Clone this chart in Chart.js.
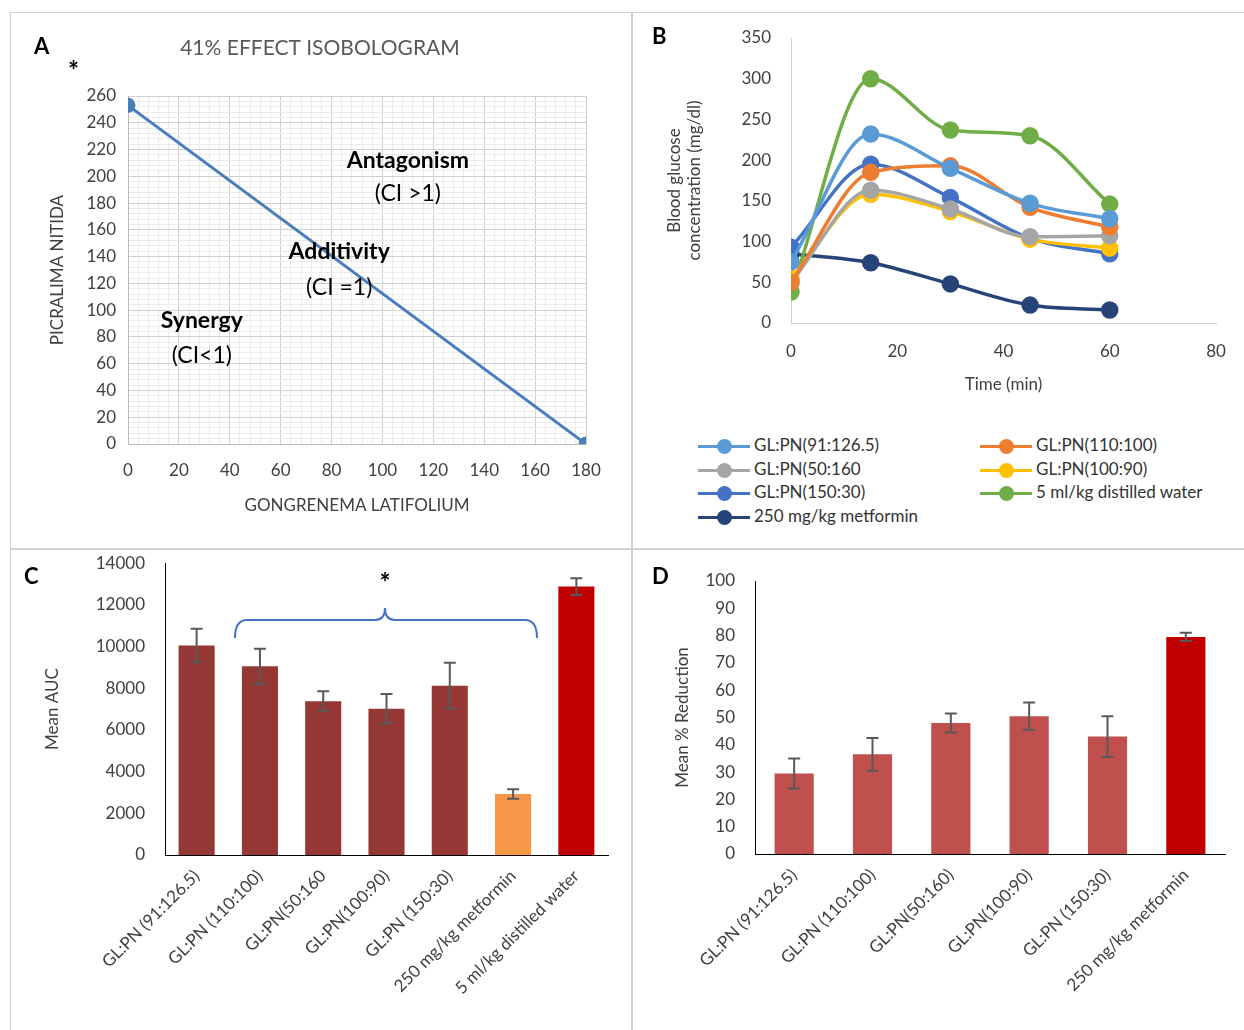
<!DOCTYPE html>
<html><head><meta charset="utf-8">
<script src="https://cdn.jsdelivr.net/npm/chart.js@4"></script>
<style>
body{margin:0;background:#fff;font-family:Lato,sans-serif;}
#wrap{position:relative;width:1244px;height:1030px;overflow:hidden;}
canvas{position:absolute;}
.line{position:absolute;background:#d0d0d0;}
.lbl{position:absolute;font-weight:bold;font-size:22px;color:#000;}
#legB{position:absolute;left:698px;top:434px;width:546px;font-size:17px;color:#333;}
#legB div{display:inline-block;width:282px;height:23.5px;white-space:nowrap;}
#legB div:nth-child(2n){width:260px;}
#legB i{display:inline-block;position:relative;width:52px;height:3px;vertical-align:middle;margin-right:4px;}
#legB i b{position:absolute;left:19px;top:-6px;width:15px;height:15px;border-radius:50%;}
</style></head>
<body><div id="wrap">
<div class="line" style="left:10px;top:12px;width:1234px;height:1px"></div>
<div class="line" style="left:10px;top:12px;width:1px;height:1018px"></div>
<div class="line" style="left:10px;top:548px;width:1234px;height:2px"></div>
<div class="line" style="left:631px;top:12px;width:2px;height:1018px"></div>
<canvas id="cA" style="left:10px;top:12px"></canvas>
<canvas id="cB" style="left:632px;top:12px"></canvas>
<canvas id="cC" style="left:10px;top:541px"></canvas>
<canvas id="cD" style="left:634px;top:550px"></canvas>
<div class="lbl" style="left:34px;top:32px">A</div>
<div class="lbl" style="left:68px;top:54px;font-size:26px">*</div>
<div class="lbl" style="left:652px;top:22px">B</div>
<div class="lbl" style="left:24px;top:562px">C</div>
<div class="lbl" style="left:652px;top:562px">D</div>
<div id="legB"></div>
</div>
<script>
// ---------- data ----------
const isoX = [0, 180];
const isoY = [253, 0];

const timeMin = [0, 15, 30, 45, 60];
const seriesNames = ["GL:PN(91:126.5)", "GL:PN(110:100)", "GL:PN(50:160", "GL:PN(100:90)", "GL:PN(150:30)", "5 ml/kg distilled water", "250 mg/kg metformin"];
const seriesColors = ["#5B9BD5", "#ED7D31", "#A5A5A5", "#FFC000", "#4472C4", "#70AD47", "#264478"];
const glucose91 = [75, 232, 190, 147, 128];
const glucose110 = [50, 185, 193, 142, 118];
const glucose50 = [50, 163, 140, 106, 107];
const glucose100 = [55, 158, 137, 103, 92];
const glucose150 = [93, 195, 154, 104, 85];
const glucoseWater = [38, 300, 237, 230, 146];
const glucoseMetformin = [85, 74, 48, 22, 16];

const aucLabels = ["GL:PN (91:126.5)", "GL:PN (110:100)", "GL:PN(50:160", "GL:PN(100:90)", "GL:PN (150:30)", "250 mg/kg metformin", "5 ml/kg distilled water"];
const aucValues = [10050, 9050, 7380, 7020, 8120, 2930, 12880];
const aucErrors = [800, 850, 480, 700, 1100, 230, 400];
const aucColors = ["#953735", "#953735", "#953735", "#953735", "#953735", "#F79646", "#C00000"];

const redLabels = ["GL:PN (91:126.5)", "GL:PN (110:100)", "GL:PN(50:160)", "GL:PN(100:90)", "GL:PN (150:30)", "250 mg/kg metformin"];
const redValues = [29.5, 36.5, 48, 50.5, 43, 79.5];
const redErrors = [5.5, 6, 3.5, 5, 7.5, 1.5];
const redColors = ["#C0504D", "#C0504D", "#C0504D", "#C0504D", "#C0504D", "#C00000"];

// ---------- helpers ----------
Chart.defaults.font.family = "Lato, sans-serif";
Chart.defaults.font.size = 17;
Chart.defaults.color = "#404040";
Chart.defaults.animation = false;

function setup(id, w, h) {
  const c = document.getElementById(id);
  c.style.width = w + "px"; c.style.height = h + "px";
  c.width = w; c.height = h;
  return c.getContext("2d");
}
const fixW = (w) => (s) => { s.width = w; };
const fixH = (h) => (s) => { s.height = h; };

const errorBars = (errs) => ({
  id: "err",
  afterDatasetsDraw(chart) {
    const ctx = chart.ctx, y = chart.scales.y;
    chart.getDatasetMeta(0).data.forEach((bar, i) => {
      const v = chart.data.datasets[0].data[i];
      const t = y.getPixelForValue(v + errs[i]), b = y.getPixelForValue(v - errs[i]);
      ctx.save(); ctx.strokeStyle = "#595959"; ctx.lineWidth = 2;
      ctx.beginPath();
      ctx.moveTo(bar.x, t); ctx.lineTo(bar.x, b);
      ctx.moveTo(bar.x - 6, t); ctx.lineTo(bar.x + 6, t);
      ctx.moveTo(bar.x - 6, b); ctx.lineTo(bar.x + 6, b);
      ctx.stroke(); ctx.restore();
    });
  }
});

// ---------- A: isobologram ----------
const isoText = [
  { t: "Antagonism", x: 110, y: 212, b: true }, { t: "(CI >1)", x: 110, y: 187 },
  { t: "Additivity", x: 83, y: 144, b: true }, { t: "(CI =1)", x: 83, y: 117 },
  { t: "Synergy", x: 29, y: 92, b: true }, { t: "(CI<1)", x: 29, y: 66 }
];
new Chart(setup("cA", 620, 536), {
  type: "scatter",
  data: { datasets: [{ data: isoX.map((x, i) => ({ x, y: isoY[i] })), showLine: true,
    borderColor: "#4A7EBB", backgroundColor: "#4A7EBB", borderWidth: 3, pointRadius: 6 }] },
  options: {
    responsive: false,
    layout: { padding: { top: 84, right: 44, left: 37, bottom: 32 } },
    plugins: { legend: { display: false }, tooltip: { enabled: false } },
    scales: {
      x: { min: 0, max: 180, afterFit: fixH(72),
        ticks: { stepSize: 4, autoSkip: false, maxRotation: 0, padding: 16, callback: (v) => v % 20 === 0 ? v : "" },
        grid: { color: (c) => c.tick.value % 20 === 0 ? "#d0d0d0" : "#ececec", drawTicks: false },
        title: { display: true, text: "GONGRENEMA LATIFOLIUM", color: "#404040", padding: 0 } },
      y: { min: 0, max: 260, afterFit: fixW(81),
        ticks: { stepSize: 4, autoSkip: false, padding: 12, callback: (v) => v % 20 === 0 ? v : "" },
        grid: { color: (c) => c.tick.value % 20 === 0 ? "#d0d0d0" : "#ececec", drawTicks: false },
        title: { display: true, text: "PICRALIMA NITIDA", color: "#404040", padding: 0 } }
    }
  },
  plugins: [{
    id: "isoText",
    afterDraw(chart) {
      const ctx = chart.ctx, sx = chart.scales.x, sy = chart.scales.y;
      ctx.save(); ctx.textAlign = "center"; ctx.textBaseline = "middle";
      ctx.fillStyle = "#595959"; ctx.font = "21px Lato";
      ctx.fillText("41% EFFECT ISOBOLOGRAM", 310, 36);
      ctx.fillStyle = "#000";
      isoText.forEach((o) => {
        ctx.font = (o.b ? "bold " : "") + "23px Lato";
        ctx.fillText(o.t, sx.getPixelForValue(o.x), sy.getPixelForValue(o.y));
      });
      ctx.restore();
    }
  }]
});

// ---------- B: blood glucose ----------
const glucoseSeries = [glucose91, glucose110, glucose50, glucose100, glucose150, glucoseWater, glucoseMetformin];
new Chart(setup("cB", 612, 400), {
  type: "line",
  data: { datasets: glucoseSeries.map((s, i) => ({
    label: seriesNames[i], data: timeMin.map((t, j) => ({ x: t, y: s[j] })),
    borderColor: seriesColors[i], backgroundColor: seriesColors[i],
    borderWidth: 3.5, pointRadius: 7, tension: 0.4, cubicInterpolationMode: "monotone"
  })) },
  options: {
    responsive: false,
    layout: { padding: { top: 26, right: 28, left: 32, bottom: 17 } },
    plugins: { legend: { display: false }, tooltip: { enabled: false } },
    scales: {
      x: { type: "linear", min: 0, max: 80, afterFit: fixH(72),
        ticks: { stepSize: 20, maxRotation: 0, padding: 10 },
        grid: { display: false, drawTicks: true }, border: { color: "#d0d0d0" },
        title: { display: true, text: "Time (min)", color: "#404040", padding: 0 } },
      y: { min: 0, max: 350, afterFit: fixW(127),
        ticks: { stepSize: 50, padding: 12 },
        grid: { display: false }, border: { color: "#d0d0d0" },
        title: { display: true, text: ["Blood glucose", "concentration (mg/dl)"], color: "#404040", padding: 0 } }
    }
  }
});
document.getElementById("legB").innerHTML = seriesNames.map((n, i) =>
  `<div><i style="background:${seriesColors[i]}"><b style="background:${seriesColors[i]}"></b></i>${n}</div>`).join("");

// ---------- C: mean AUC ----------
new Chart(setup("cC", 622, 489), {
  type: "bar",
  data: { labels: aucLabels, datasets: [{ data: aucValues, backgroundColor: aucColors,
    categoryPercentage: 1, barPercentage: 0.57 }] },
  options: {
    responsive: false,
    layout: { padding: { top: 4, right: 24, left: 32, bottom: 0 } },
    plugins: { legend: { display: false }, tooltip: { enabled: false } },
    scales: {
      x: { afterFit: fixH(175), grid: { display: false }, border: { color: "#000" },
        ticks: { minRotation: 45, maxRotation: 45, autoSkip: false } },
      y: { min: 0, max: 14000, afterFit: fixW(123), ticks: { stepSize: 2000, padding: 12, callback: (v) => String(v) },
        grid: { display: false }, border: { color: "#000" },
        title: { display: true, text: "Mean AUC", color: "#404040", padding: 0 } }
    }
  },
  plugins: [errorBars(aucErrors), {
    id: "bracket",
    afterDraw(chart) {
      const ctx = chart.ctx, x0 = 225, x1 = 527, xm = 375, y0 = 97, y1 = 79;
      ctx.save(); ctx.strokeStyle = "#4472C4"; ctx.lineWidth = 2;
      ctx.beginPath();
      ctx.moveTo(x0, y0); ctx.quadraticCurveTo(x0, y1, x0 + 12, y1);
      ctx.lineTo(xm - 10, y1); ctx.quadraticCurveTo(xm, y1, xm, y1 - 12);
      ctx.quadraticCurveTo(xm, y1, xm + 10, y1);
      ctx.lineTo(x1 - 12, y1); ctx.quadraticCurveTo(x1, y1, x1, y0);
      ctx.stroke();
      ctx.fillStyle = "#000"; ctx.font = "bold 26px Lato"; ctx.textAlign = "center";
      ctx.fillText("*", xm, 51);
      ctx.restore();
    }
  }]
});

// ---------- D: mean % reduction ----------
new Chart(setup("cD", 610, 480), {
  type: "bar",
  data: { labels: redLabels, datasets: [{ data: redValues, backgroundColor: redColors,
    categoryPercentage: 1, barPercentage: 0.5 }] },
  options: {
    responsive: false,
    layout: { padding: { top: 31, right: 19, left: 38, bottom: 0 } },
    plugins: { legend: { display: false }, tooltip: { enabled: false } },
    scales: {
      x: { afterFit: fixH(176), grid: { display: false }, border: { color: "#000" },
        ticks: { minRotation: 45, maxRotation: 45, autoSkip: false } },
      y: { min: 0, max: 100, afterFit: fixW(83), ticks: { stepSize: 10, padding: 12 },
        grid: { display: false }, border: { color: "#000" },
        title: { display: true, text: "Mean % Reduction", color: "#404040", padding: 0 } }
    }
  },
  plugins: [errorBars(redErrors)]
});
</script>
</body></html>
